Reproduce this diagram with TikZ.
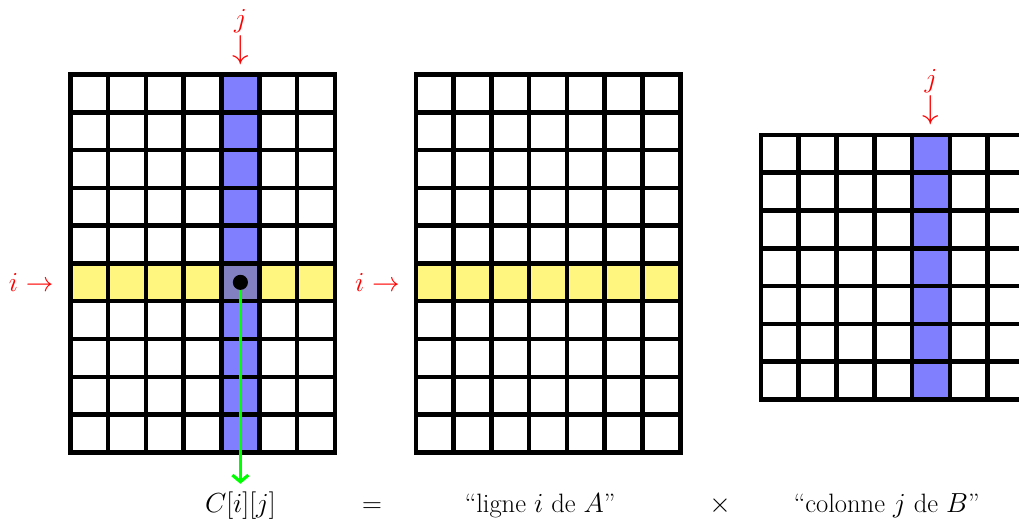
\documentclass[tikz,border=0pt]{standalone}
\usetikzlibrary{positioning,arrows.meta}
\definecolor{colj}{RGB}{128,128,255}
\definecolor{rowi}{RGB}{255,246,128}
\definecolor{crossij}{RGB}{130,128,192}
\tikzset{
  gridline/.style={line width=3.4pt, line cap=rect},
  idx/.style={text=red, inner sep=0pt},
  downarr/.style={idx, font=\fontsize{25}{30}\selectfont},
  prod/.style={green, line width=2.4pt, -{Straight Barb[length=5pt,width=12pt]}},
  eqtext/.style={anchor=base, inner sep=0pt},
}
\begin{document}
\begin{tikzpicture}[font=\fontsize{20}{24}\selectfont]
  \clip (-1.86,-1.865) rectangle (25.10,11.97);
  % matrix C, row i and column j
  \fill[colj] (4,0) rectangle (5,10);
  \fill[rowi] (0,4) rectangle (7,5);
  \fill[crossij] (4,4) rectangle (5,5);
  \draw[gridline] (0,0) grid (7,10);
  % matrix A, row i
  \begin{scope}[xshift=9.14cm]
    \fill[rowi] (0,4) rectangle (7,5);
    \draw[gridline] (0,0) grid (7,10);
    \coordinate (aleft) at (0,4.5);
  \end{scope}
  % matrix B, column j
  \begin{scope}[shift={(18.27,1.4)}]
    \fill[colj] (4,0) rectangle (5,7);
    \draw[gridline] (0,0) grid (7,7);
    \coordinate (btop) at (4.5,7);
  \end{scope}
  % indices
  \coordinate (ctop) at (4.5,10);
  \coordinate (cleft) at (0,4.5);
  \node[downarr, above=0.24 of ctop] (jcarr) {$\downarrow$};
  \node[idx, above=2pt of jcarr] (jc) {$j$};
  \node[idx, left=0.44 of cleft] (ic) {$i\rightarrow$};
  \node[idx, left=0.42 of aleft] (ia) {$i\rightarrow$};
  \node[downarr, above=0.25 of btop] (jbarr) {$\downarrow$};
  \node[idx, above=2pt of jbarr] (jb) {$j$};
  % entry C[i][j]
  \node[circle, fill=black, inner sep=0pt, minimum size=0.4cm] (dot) at (4.5,4.5) {};
  \coordinate (cend) at (4.5,-0.83);
  \draw[prod] (dot) -- (cend);
  % formula
  \node[eqtext] (cij) at (4.5,-1.6) {$C[i][j]$};
  \node[eqtext] (eq) at (7.98,-1.6) {$=$};
  \node[eqtext] (rowA) at (12.43,-1.6) {“ligne $i$ de $A$”};
  \node[eqtext] (times) at (17.19,-1.6) {$\times$};
  \node[eqtext] (colB) at (21.6,-1.6) {“colonne $j$ de $B$”};
\end{tikzpicture}
\end{document}
